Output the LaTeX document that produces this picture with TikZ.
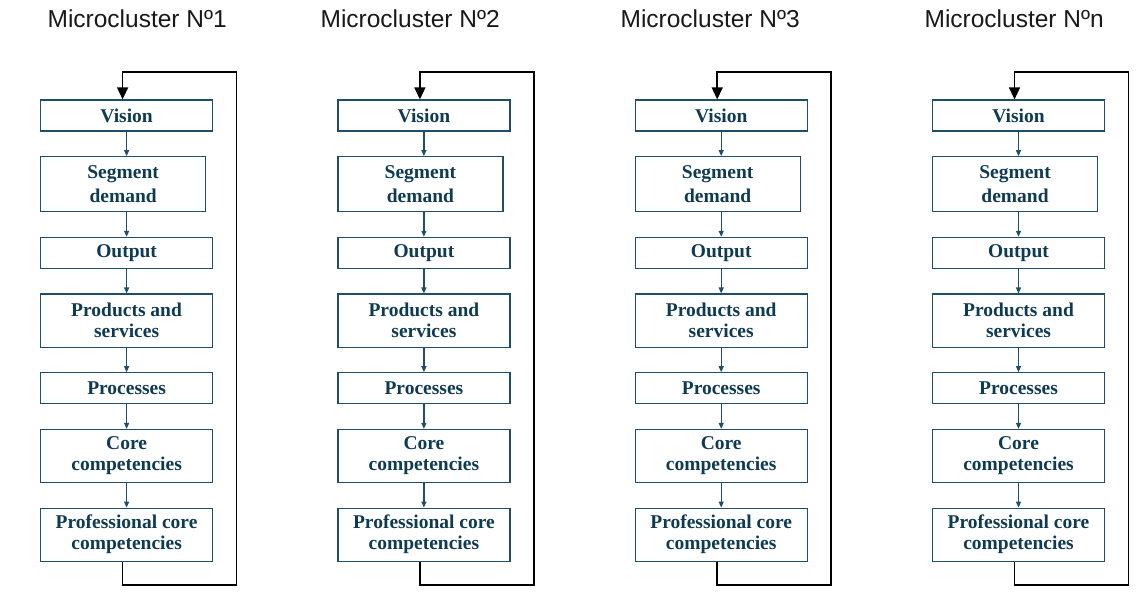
\documentclass[tikz,border=0pt]{standalone}
\usepackage{fontspec}
\setmainfont{Liberation Serif}
\newfontfamily\titlefont{Liberation Sans}
\usetikzlibrary{positioning, arrows.meta}
\definecolor{boxblue}{RGB}{31,78,104}
\definecolor{textblue}{RGB}{14,58,82}
\tikzset{
  every picture/.style={line width=1.2pt},
  node distance=24.5pt,
  stage/.style={draw=boxblue, text=textblue, font=\fontsize{19.5}{21}\selectfont\bfseries, align=center, minimum width=172pt, minimum height=31pt, inner sep=0pt},
  tall/.style={stage, minimum height=53pt},
  heading/.style={font=\titlefont\fontsize{24.5}{28}\selectfont, text=black!90, inner sep=0pt, anchor=base west},
  flow/.style={draw=boxblue, -{Triangle[length=6pt,width=5pt]}},
  back/.style={draw=black, line width=1.5pt, -{Triangle[length=12pt,width=11pt]}},
}

\begin{document}
\begin{tikzpicture}
  \useasboundingbox (0,0) rectangle (1147pt,611pt);
  \foreach \i/\num/\tx in {0/1/47, 1/2/320, 2/3/620, 3/n/924} {
    \node[heading] (title\i) at (\tx pt, 583.7pt) {Microcluster Nº\num};

    % stages of one microcluster
    \node[stage, anchor=north west] (vis\i) at (40pt+\i*297.3pt, 511.6pt) {Vision};
    \node[tall, minimum width=165pt, minimum height=55pt, below=of vis\i.south west, anchor=north west] (seg\i) {Segment\\[3pt]demand};
    \node[stage, below=of seg\i.south west, anchor=north west] (out\i) {Output};
    \node[tall, below=of out\i.south west, anchor=north west] (prod\i) {Products and\\services};
    \node[stage, below=of prod\i.south west, anchor=north west] (proc\i) {Processes};
    \node[tall, below=of proc\i.south west, anchor=north west] (core\i) {Core\\competencies};
    \node[tall, below=of core\i.south west, anchor=north west] (pcc\i) {Professional core\\competencies};

    \draw[flow] (vis\i.south) -- (vis\i.south |- seg\i.north);
    \draw[flow] (out\i.north |- seg\i.south) -- (out\i.north);
    \draw[flow] (out\i) -- (prod\i);
    \draw[flow] (prod\i) -- (proc\i);
    \draw[flow] (proc\i) -- (core\i);
    \draw[flow] (core\i) -- (pcc\i);

    % feedback loop
    \draw[back] ([xshift=-4pt]pcc\i.south) -- ++(0,-23pt) -- ++(114pt,0)
      |- ([xshift=-4pt,yshift=27.3pt]vis\i.north) -- ([xshift=-4pt]vis\i.north);
  }
\end{tikzpicture}
\end{document}
